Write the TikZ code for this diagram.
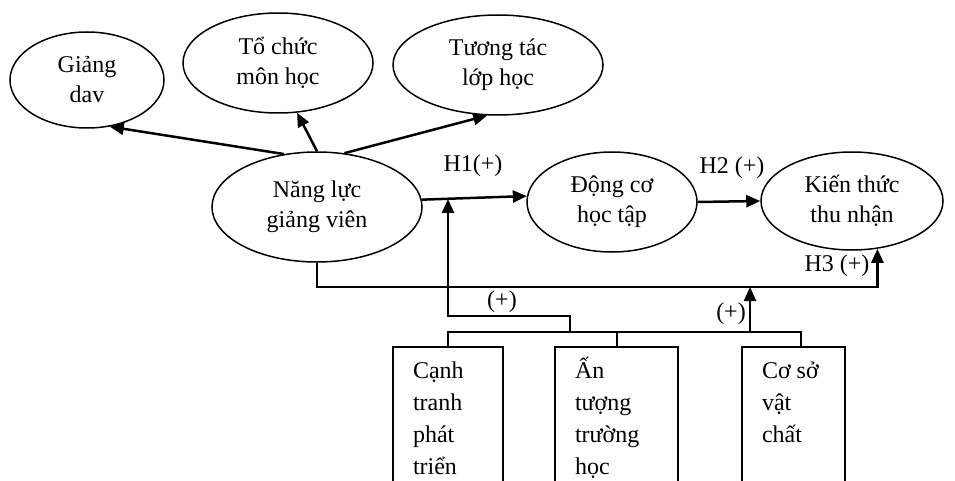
\documentclass[tikz,border=0pt]{standalone}
\usepackage{fontspec}
\setmainfont{Liberation Serif}
\usetikzlibrary{arrows.meta, shapes.geometric, calc}

\newcommand{\factorlines}[2]{\parbox[t][140pt][t]{#1}{\raggedright\fontsize{24}{32}\selectfont\strut #2}}

\begin{document}
\begin{tikzpicture}[x=1pt, y=-1pt,
    concept/.style={ellipse, draw=black, line width=1.5pt, inner sep=0pt, align=center, font=\fontsize{24}{30}\selectfont},
    factor/.style={rectangle, draw=black, line width=2pt, inner xsep=20pt, inner ysep=8.6pt, anchor=north},
    lbl/.style={font=\fontsize{24}{30}\selectfont, inner sep=0pt},
    arr/.style={-{Triangle[length=14pt, width=12pt]}, draw=black, line width=2.5pt},
    link/.style={draw=black, line width=2pt}
  ]
    \useasboundingbox (0,0) rectangle (955,481);
    \clip (0,0) rectangle (955,481);
    % outcome constructs
    \node[concept, minimum width=154pt, minimum height=96pt] (gd) at (87,80) {Giảng\\dav};
    \node[concept, minimum width=190pt, minimum height=100pt] (tc) at (278,63) {Tổ chức\\môn học};
    \node[concept, minimum width=210pt, minimum height=100pt] (tt) at (498,65) {Tương tác\\lớp học};
    \node[concept, minimum width=210pt, minimum height=110pt] (nl) at (317,207) {Năng lực\\giảng viên};
    \node[concept, minimum width=170pt, minimum height=100pt] (dc) at (612,202) {Động cơ\\học tập};
    \node[concept, minimum width=182pt, minimum height=98pt] (kt) at (852,201) {Kiến thức\\thu nhận};
    % context factors
    \node[factor] (cn) at (448,346) {\factorlines{70pt}{Cạnh\\tranh\\phát\\triển}};
    \node[factor] (an) at (616.5,346) {\factorlines{83pt}{Ấn\\tượng\\trường\\học}};
    \node[factor] (cs) at (793.5,346) {\factorlines{63pt}{Cơ sở\\vật\\chất}};
    % labels
    \node[lbl] (h1) at (473,166) {H1(+)};
    \node[lbl] (h2) at (732,168) {H2 (+)};
    \node[lbl] (h3) at (837,266) {H3 (+)};
    \node[lbl] (p1) at (502,302) {(+)};
    \node[lbl] (p2) at (731,314) {(+)};
    % helper points
    \coordinate (bus) at (0,332);
    \coordinate (h3base) at (600,287);
    \coordinate (h1src) at (570,332);
    \coordinate (h1mid) at (448,316);
    \coordinate (h1hit) at (448,199);
    \coordinate (csdrop) at ([xshift=7.5pt]cs.north);
    \coordinate (csup) at (750,332);
    \coordinate (h3join) at (750,287);
    % dimensions of lecturer competence
    \draw[arr] (nl.122) -- (gd.-64);
    \draw[arr] (nl.north) -- (tc.-69);
    \draw[arr] (nl.63) -- (tt.-102);
    % hypotheses
    \draw[arr] (nl.4) -- (dc.176);
    \draw[arr] (dc.east) -- (kt.west);
    \draw[arr] (nl.south) |- (h3base) -| (kt.-62);
    % moderators
    \draw[link] (cn.north) |- (csdrop |- bus) -- (csdrop);
    \draw[link] (an.north) -- (an.north |- bus);
    \draw[arr] (h1src) |- (h1mid) -- (h1hit);
    \draw[arr] (csup) -- (h3join);
\end{tikzpicture}
\end{document}
